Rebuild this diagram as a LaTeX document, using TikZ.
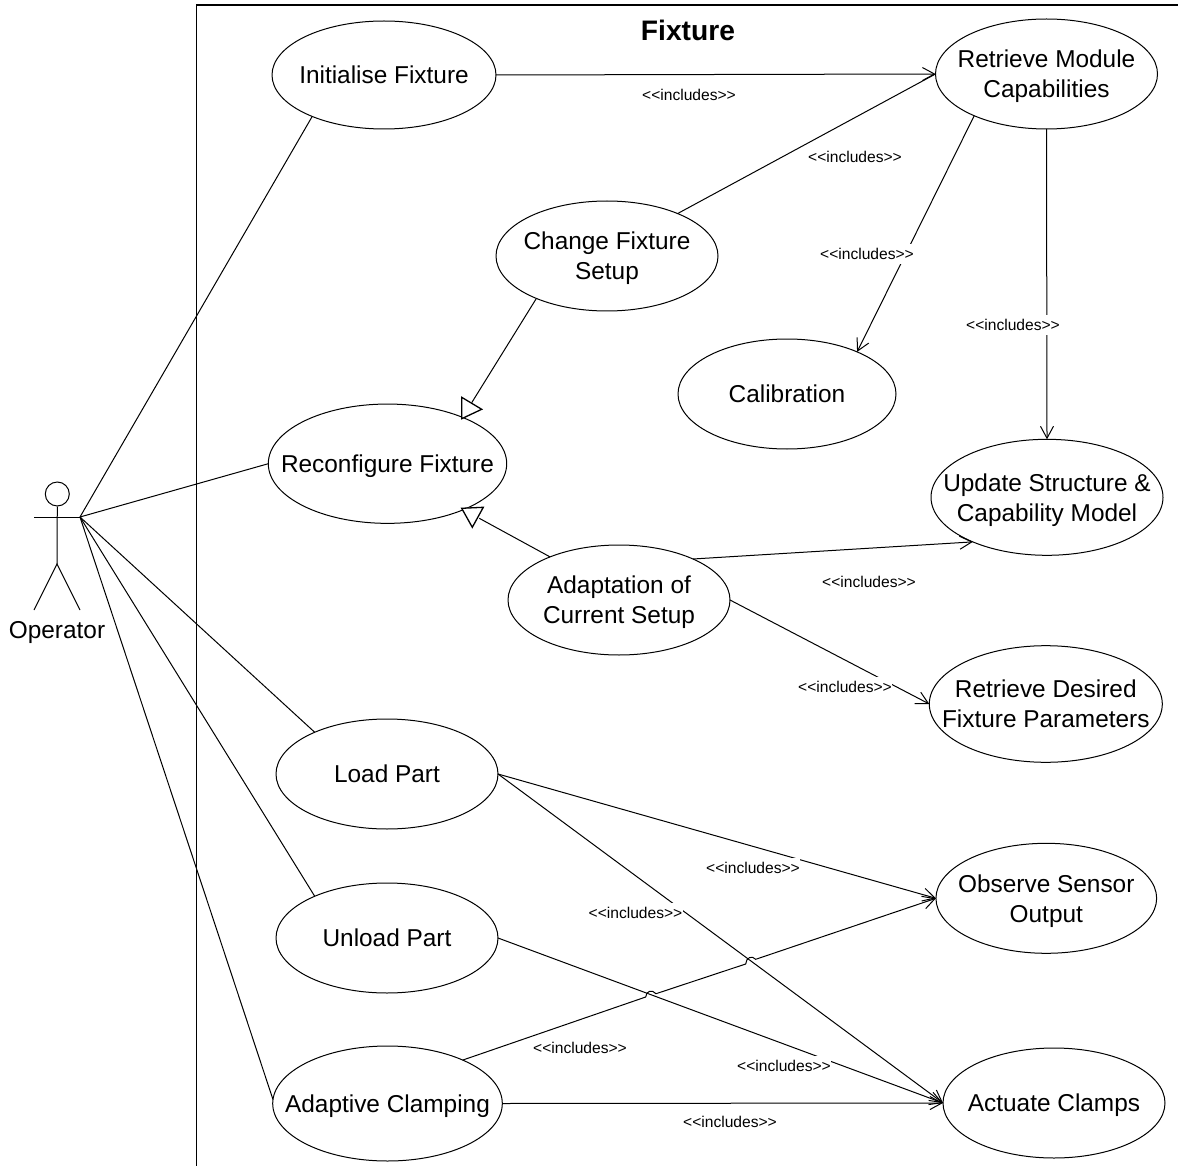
\documentclass[tikz,border=0pt]{standalone}
\usepackage{fontspec}
\setmainfont{Liberation Sans}
\usetikzlibrary{shapes.geometric,arrows.meta}
\newcommand\ucl[1]{\makebox[0pt]{\raisebox{-9pt}[0pt][0pt]{\begin{tabular}[c]{@{}c@{}}#1\end{tabular}}}}
\newcommand\incl{<\kern0pt<includes>\kern0pt>}
\tikzset{
  line/.style={line width=1pt,black},
  frameline/.style={line width=1.3pt,black},
  uc/.style={ellipse,draw,line width=1pt,fill=white,inner sep=0pt,outer sep=0pt,minimum width=222pt,minimum height=110pt,font=\fontsize{24.4}{30}\selectfont},
  inc/.style={line,-{Straight Barb[length=12pt,width=13pt,line width=1pt]}},
  lbl/.style={fill=white,inner xsep=0.5pt,inner ysep=0pt,minimum height=20pt,font=\fontsize{15.6}{19}\selectfont},
  gen/.style={draw,line width=1.3pt,fill=white,line join=miter},
}
\begin{document}
\begin{tikzpicture}[x=1pt,y=-1pt]
\useasboundingbox (0,0) rectangle (1178,1166);
% system frame
\coordinate (ftl) at (196.3,5);
\coordinate (ftr) at (1178,5);
\coordinate (fbl) at (196.3,1166);
\draw[frameline] (ftr) -- (ftl) -- (fbl);
\node[font=\fontsize{28.2}{32}\selectfont\bfseries] (title) at (688,30) {Fixture};
% actor
\coordinate (hand) at (80,517);
\coordinate (handl) at (34,517);
\coordinate (hip) at (57,564);
\coordinate (footl) at (34,610);
\coordinate (footr) at (80,610);
\node[circle,draw,line width=1pt,inner sep=0pt,minimum size=24pt] (head) at (57.3,494) {};
\draw[line] (handl) -- (hand);
\draw[line] (head.south) -- (hip);
\draw[line] (footl) -- (hip) -- (footr);
\node[font=\fontsize{24.4}{30}\selectfont] (oplabel) at (57,633) {Operator};
% use cases
\node[uc,minimum width=224pt,minimum height=108pt] (init) at (384,75) {\ucl{Initialise Fixture}};
\node[uc] (retr) at (1046.5,74) {\ucl{Retrieve Module\\Capabilities}};
\node[uc] (chg) at (607,256) {\ucl{Change Fixture\\Setup}};
\node[uc,minimum width=218pt] (cal) at (787,394) {\ucl{Calibration}};
\node[uc,minimum width=238.4pt,minimum height=119.3pt] (reconf) at (387.5,463.7) {\ucl{Reconfigure Fixture}};
\node[uc,minimum width=232pt,minimum height=116pt] (upd) at (1047,497.3) {\ucl{Update Structure \&\\Capability Model}};
\node[uc] (adapt) at (619,600) {\ucl{Adaptation of\\Current Setup}};
\node[uc,minimum width=233pt,minimum height=116.6pt] (des) at (1045.8,704) {\ucl{Retrieve Desired\\Fixture Parameters}};
\node[uc] (load) at (387,774) {\ucl{Load Part}};
\node[uc] (unload) at (387,938) {\ucl{Unload Part}};
\node[uc,minimum width=220.7pt] (obs) at (1046.3,898.3) {\ucl{Observe Sensor\\Output}};
\node[uc,minimum width=229.6pt,minimum height=115pt] (clamp) at (387.5,1103.5) {\ucl{Adaptive Clamping}};
\node[uc] (act) at (1054,1103) {\ucl{Actuate Clamps}};
% operator associations
\draw[line] (hand) -- (init.210);
\draw[line] (hand) -- (reconf.west);
\draw[line] (hand) -- (load.150);
\draw[line] (hand) -- (unload.150);
\draw[line] (hand) -- (clamp.178);
% generalisations
\coordinate (g1a) at (461.7,397.3);
\coordinate (g1b) at (481.7,409.3);
\coordinate (g1c) at (461.7,418.7);
\coordinate (g1m) at (471.7,402.7);
\coordinate (g2a) at (461.7,508.3);
\coordinate (g2b) at (483.3,507.3);
\coordinate (g2c) at (472.3,527.3);
\coordinate (g2m) at (479.3,518.3);
\draw[line] (chg.211.6) -- (g1m);
\draw[line] (adapt.148.7) -- (g2m);
\draw[gen] (g1a) -- (g1b) -- (g1c) -- cycle;
\draw[gen] (g2a) -- (g2b) -- (g2c) -- cycle;
% includes
\draw[inc] (init.east) -- (retr.west);
\draw[line] (chg.31) -- (retr.west);
\draw[inc] (retr.210.7) -- (cal.31);
\draw[inc] (retr.south) -- (upd.north);
\draw[inc] (adapt.29.4) -- (upd.211);
\draw[inc] (adapt.east) -- (des.west);
\draw[inc] (load.east) -- (obs.west);
\draw[inc] (load.east) -- (act.west);
\draw[inc] (unload.east) -- (act.west);
\draw[inc] (clamp.east) -- (act.west);
% adaptive clamping to observe, with line jumps
\coordinate (j1a) at (645.7,997);
\coordinate (j1b) at (656,993.7);
\coordinate (j2a) at (745.7,964);
\coordinate (j2b) at (755.7,959.3);
\draw[inc] (clamp.30.8) -- (j1a) .. controls (646,991) and (652,989) .. (j1b) -- (j2a) .. controls (746,957.5) and (752,955) .. (j2b) -- (obs.west);
% labels
\node[lbl] (l1) at (689,95) {\incl};
\node[lbl] (l2) at (855,157) {\incl};
\node[lbl] (l3) at (867,254) {\incl};
\node[lbl] (l4) at (1013,325) {\incl};
\node[lbl] (l5) at (869,582) {\incl};
\node[lbl] (l6) at (845,687) {\incl};
\node[lbl] (l7) at (753,868) {\incl};
\node[lbl] (l8) at (635.5,913) {\incl};
\node[lbl] (l9) at (580,1048) {\incl};
\node[lbl] (l10) at (784,1066) {\incl};
\node[lbl] (l11) at (730,1122) {\incl};
\end{tikzpicture}
\end{document}
